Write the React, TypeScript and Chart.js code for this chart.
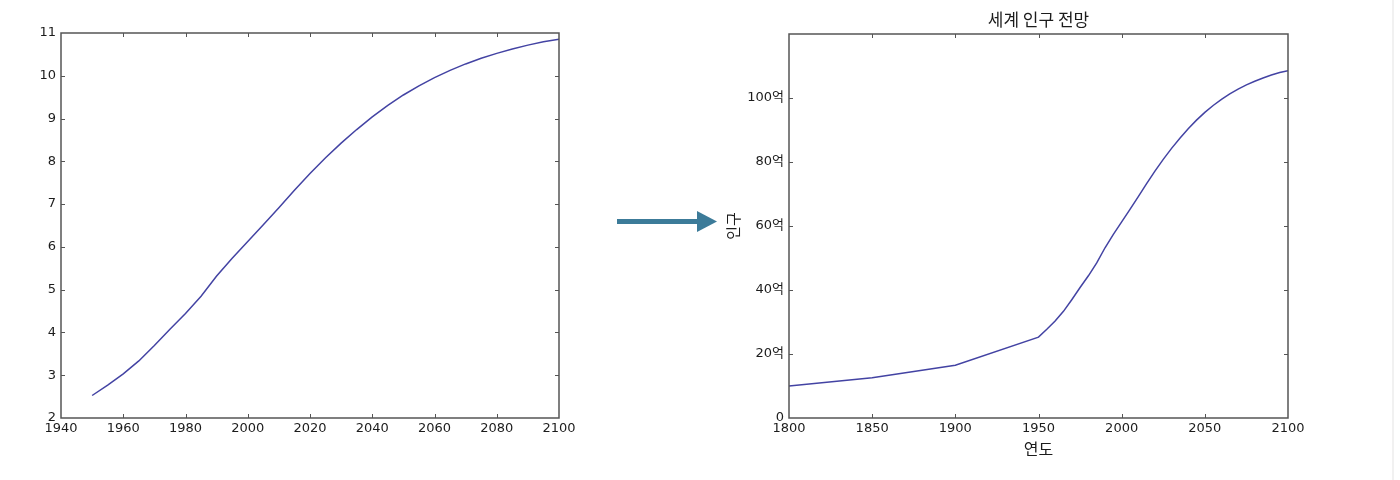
import React, { useEffect, useRef } from "react";
import { Chart, registerables } from "chart.js";

Chart.register(...registerables);

// ---- data ----
const HIST_YEARS = [1800, 1850, 1900];
const HIST_POP = [1.0, 1.26, 1.65];

const YEARS = [
  1950, 1955, 1960, 1965, 1970, 1975, 1980, 1985, 1990, 1995, 2000, 2005, 2010,
  2015, 2020, 2025, 2030, 2035, 2040, 2045, 2050, 2055, 2060, 2065, 2070, 2075,
  2080, 2085, 2090, 2095, 2100,
];
const POP = [
  2.526, 2.771, 3.03, 3.334, 3.697, 4.077, 4.444, 4.846, 5.32, 5.736, 6.127,
  6.52, 6.916, 7.324, 7.717, 8.083, 8.425, 8.743, 9.039, 9.308, 9.551, 9.766,
  9.957, 10.127, 10.277, 10.409, 10.524, 10.626, 10.717, 10.794, 10.854,
];

const RIGHT_TITLE = "세계 인구 전망";
const RIGHT_X_TITLE = "연도";
const RIGHT_Y_TITLE = "인구";
const RIGHT_Y_TICKS = [0, 2, 4, 6, 8, 10];
const RIGHT_Y_LABELS = ["0", "20억", "40억", "60억", "80억", "100억"];

const LINE_COLOR = "#4343a3";
const TEXT_COLOR = "#1c1c1c";
const FRAME_COLOR = "#555555";
const TICK_FONT = { family: "'DejaVu Sans', 'Noto Sans CJK KR', sans-serif", size: 13 };
const KR_FAMILY = "'Noto Sans CJK KR', 'DejaVu Sans', sans-serif";

const framePlugin = {
  id: "frame",
  afterDraw(chart: any) {
    const { ctx, chartArea, scales } = chart;
    const { left, right, top, bottom } = chartArea;
    const tl = 4;
    ctx.save();
    ctx.strokeStyle = FRAME_COLOR;
    ctx.lineWidth = 1;
    ctx.beginPath();
    scales.x.ticks.forEach((t: any) => {
      const px = Math.round(scales.x.getPixelForValue(t.value)) + 0.5;
      if (px <= left + 2 || px >= right - 2) return;
      ctx.moveTo(px, bottom);
      ctx.lineTo(px, bottom - tl);
      ctx.moveTo(px, top);
      ctx.lineTo(px, top + tl);
    });
    scales.y.ticks.forEach((t: any) => {
      const py = Math.round(scales.y.getPixelForValue(t.value)) + 0.5;
      if (py <= top + 2 || py >= bottom - 2) return;
      ctx.moveTo(left, py);
      ctx.lineTo(left + tl, py);
      ctx.moveTo(right, py);
      ctx.lineTo(right - tl, py);
    });
    ctx.stroke();
    ctx.lineWidth = 1.5;
    ctx.strokeRect(left, top, right - left, bottom - top);
    ctx.restore();
  },
};

function useChart(ref: React.RefObject<HTMLCanvasElement | null>, makeConfig: () => any) {
  useEffect(() => {
    if (!ref.current) return;
    const chart = new Chart(ref.current, makeConfig());
    return () => chart.destroy();
  }, []);
}

function leftConfig() {
  return {
    type: "line",
    data: {
      datasets: [
        {
          data: YEARS.map((y, i) => ({ x: y, y: POP[i] })),
          borderColor: LINE_COLOR,
          borderWidth: 1.5,
          pointRadius: 0,
          tension: 0,
          fill: false,
        },
      ],
    },
    options: {
      animation: false,
      responsive: false,
      layout: { padding: { top: 33, right: 41, bottom: 42, left: 0 } },
      plugins: { legend: { display: false }, tooltip: { enabled: false }, title: { display: false } },
      scales: {
        x: {
          type: "linear",
          min: 1940,
          max: 2100,
          grid: { display: false, drawTicks: false },
          border: { display: false },
          ticks: { stepSize: 20, font: TICK_FONT, color: TEXT_COLOR, padding: 3, maxRotation: 0, autoSkip: false, callback: (v: any) => String(v) },
          afterFit: (s: any) => { s.height = 20; },
        },
        y: {
          type: "linear",
          min: 2,
          max: 11,
          grid: { display: false, drawTicks: false },
          border: { display: false },
          ticks: { stepSize: 1, font: TICK_FONT, color: TEXT_COLOR, padding: 5, callback: (v: any) => String(v) },
          afterFit: (s: any) => { s.width = 61; },
        },
      },
    },
    plugins: [framePlugin],
  };
}

function rightConfig() {
  const xs = [...HIST_YEARS, ...YEARS];
  const ys = [...HIST_POP, ...POP];
  return {
    type: "line",
    data: {
      datasets: [
        {
          data: xs.map((x, i) => ({ x, y: ys[i] })),
          borderColor: LINE_COLOR,
          borderWidth: 1.5,
          pointRadius: 0,
          tension: 0,
          fill: false,
        },
      ],
    },
    options: {
      animation: false,
      responsive: false,
      layout: { padding: { top: 0, right: 47, bottom: 0, left: 47 } },
      plugins: {
        legend: { display: false },
        tooltip: { enabled: false },
        title: {
          display: true,
          text: RIGHT_TITLE,
          font: { family: KR_FAMILY, size: 17, weight: "normal", lineHeight: 1.2 },
          color: TEXT_COLOR,
          padding: { top: 9, bottom: 4.6 },
        },
      },
      scales: {
        x: {
          type: "linear",
          min: 1800,
          max: 2100,
          grid: { display: false, drawTicks: false },
          border: { display: false },
          ticks: { stepSize: 50, font: TICK_FONT, color: TEXT_COLOR, padding: 3, maxRotation: 0, autoSkip: false, callback: (v: any) => String(v) },
          title: {
            display: true,
            text: RIGHT_X_TITLE,
            font: { family: KR_FAMILY, size: 16, lineHeight: 1.2 },
            color: TEXT_COLOR,
            padding: { top: 0, bottom: 21 },
          },
          afterFit: (s: any) => { s.height = 62; },
        },
        y: {
          type: "linear",
          min: 0,
          max: 12,
          grid: { display: false, drawTicks: false },
          border: { display: false },
          afterBuildTicks: (s: any) => {
            s.ticks = RIGHT_Y_TICKS.map((v) => ({ value: v }));
          },
          ticks: {
            font: TICK_FONT,
            color: TEXT_COLOR,
            padding: 5,
            callback: (v: any) => {
              const i = RIGHT_Y_TICKS.indexOf(Number(v));
              return i >= 0 ? RIGHT_Y_LABELS[i] : "";
            },
          },
          title: {
            display: true,
            text: RIGHT_Y_TITLE,
            font: { family: KR_FAMILY, size: 15, lineHeight: 1.2 },
            color: TEXT_COLOR,
            padding: { top: 0, bottom: 0 },
          },
          afterFit: (s: any) => { s.width = 65; },
        },
        // empty spacer axis on the right so the title centres over the plot
        y2: {
          type: "linear",
          position: "right",
          display: true,
          grid: { display: false, drawTicks: false },
          border: { display: false },
          ticks: { display: false },
          afterFit: (s: any) => { s.width = 65; },
        },
      },
    },
    plugins: [framePlugin],
  };
}

export default function App() {
  const leftRef = useRef<HTMLCanvasElement>(null);
  const rightRef = useRef<HTMLCanvasElement>(null);
  useChart(leftRef, leftConfig);
  useChart(rightRef, rightConfig);

  return (
    <div style={{ position: "fixed", left: 0, top: 0, width: 1400, height: 480, background: "#ffffff", overflow: "hidden" }}>
      <canvas ref={leftRef} width={600} height={480} style={{ position: "absolute", left: 0, top: 0, width: 600, height: 480 }} />
      <canvas ref={rightRef} width={723} height={480} style={{ position: "absolute", left: 677, top: 0, width: 723, height: 480 }} />
      <svg width={1400} height={480} style={{ position: "absolute", left: 0, top: 0, pointerEvents: "none" }}>
        <rect x={617} y={219} width={82} height={5} fill="#3c7b99" />
        <polygon points="697,211 717,221.5 697,232" fill="#3c7b99" />
        <rect x={1392} y={0} width={2} height={480} fill="#f1f1f1" />
      </svg>
    </div>
  );
}
